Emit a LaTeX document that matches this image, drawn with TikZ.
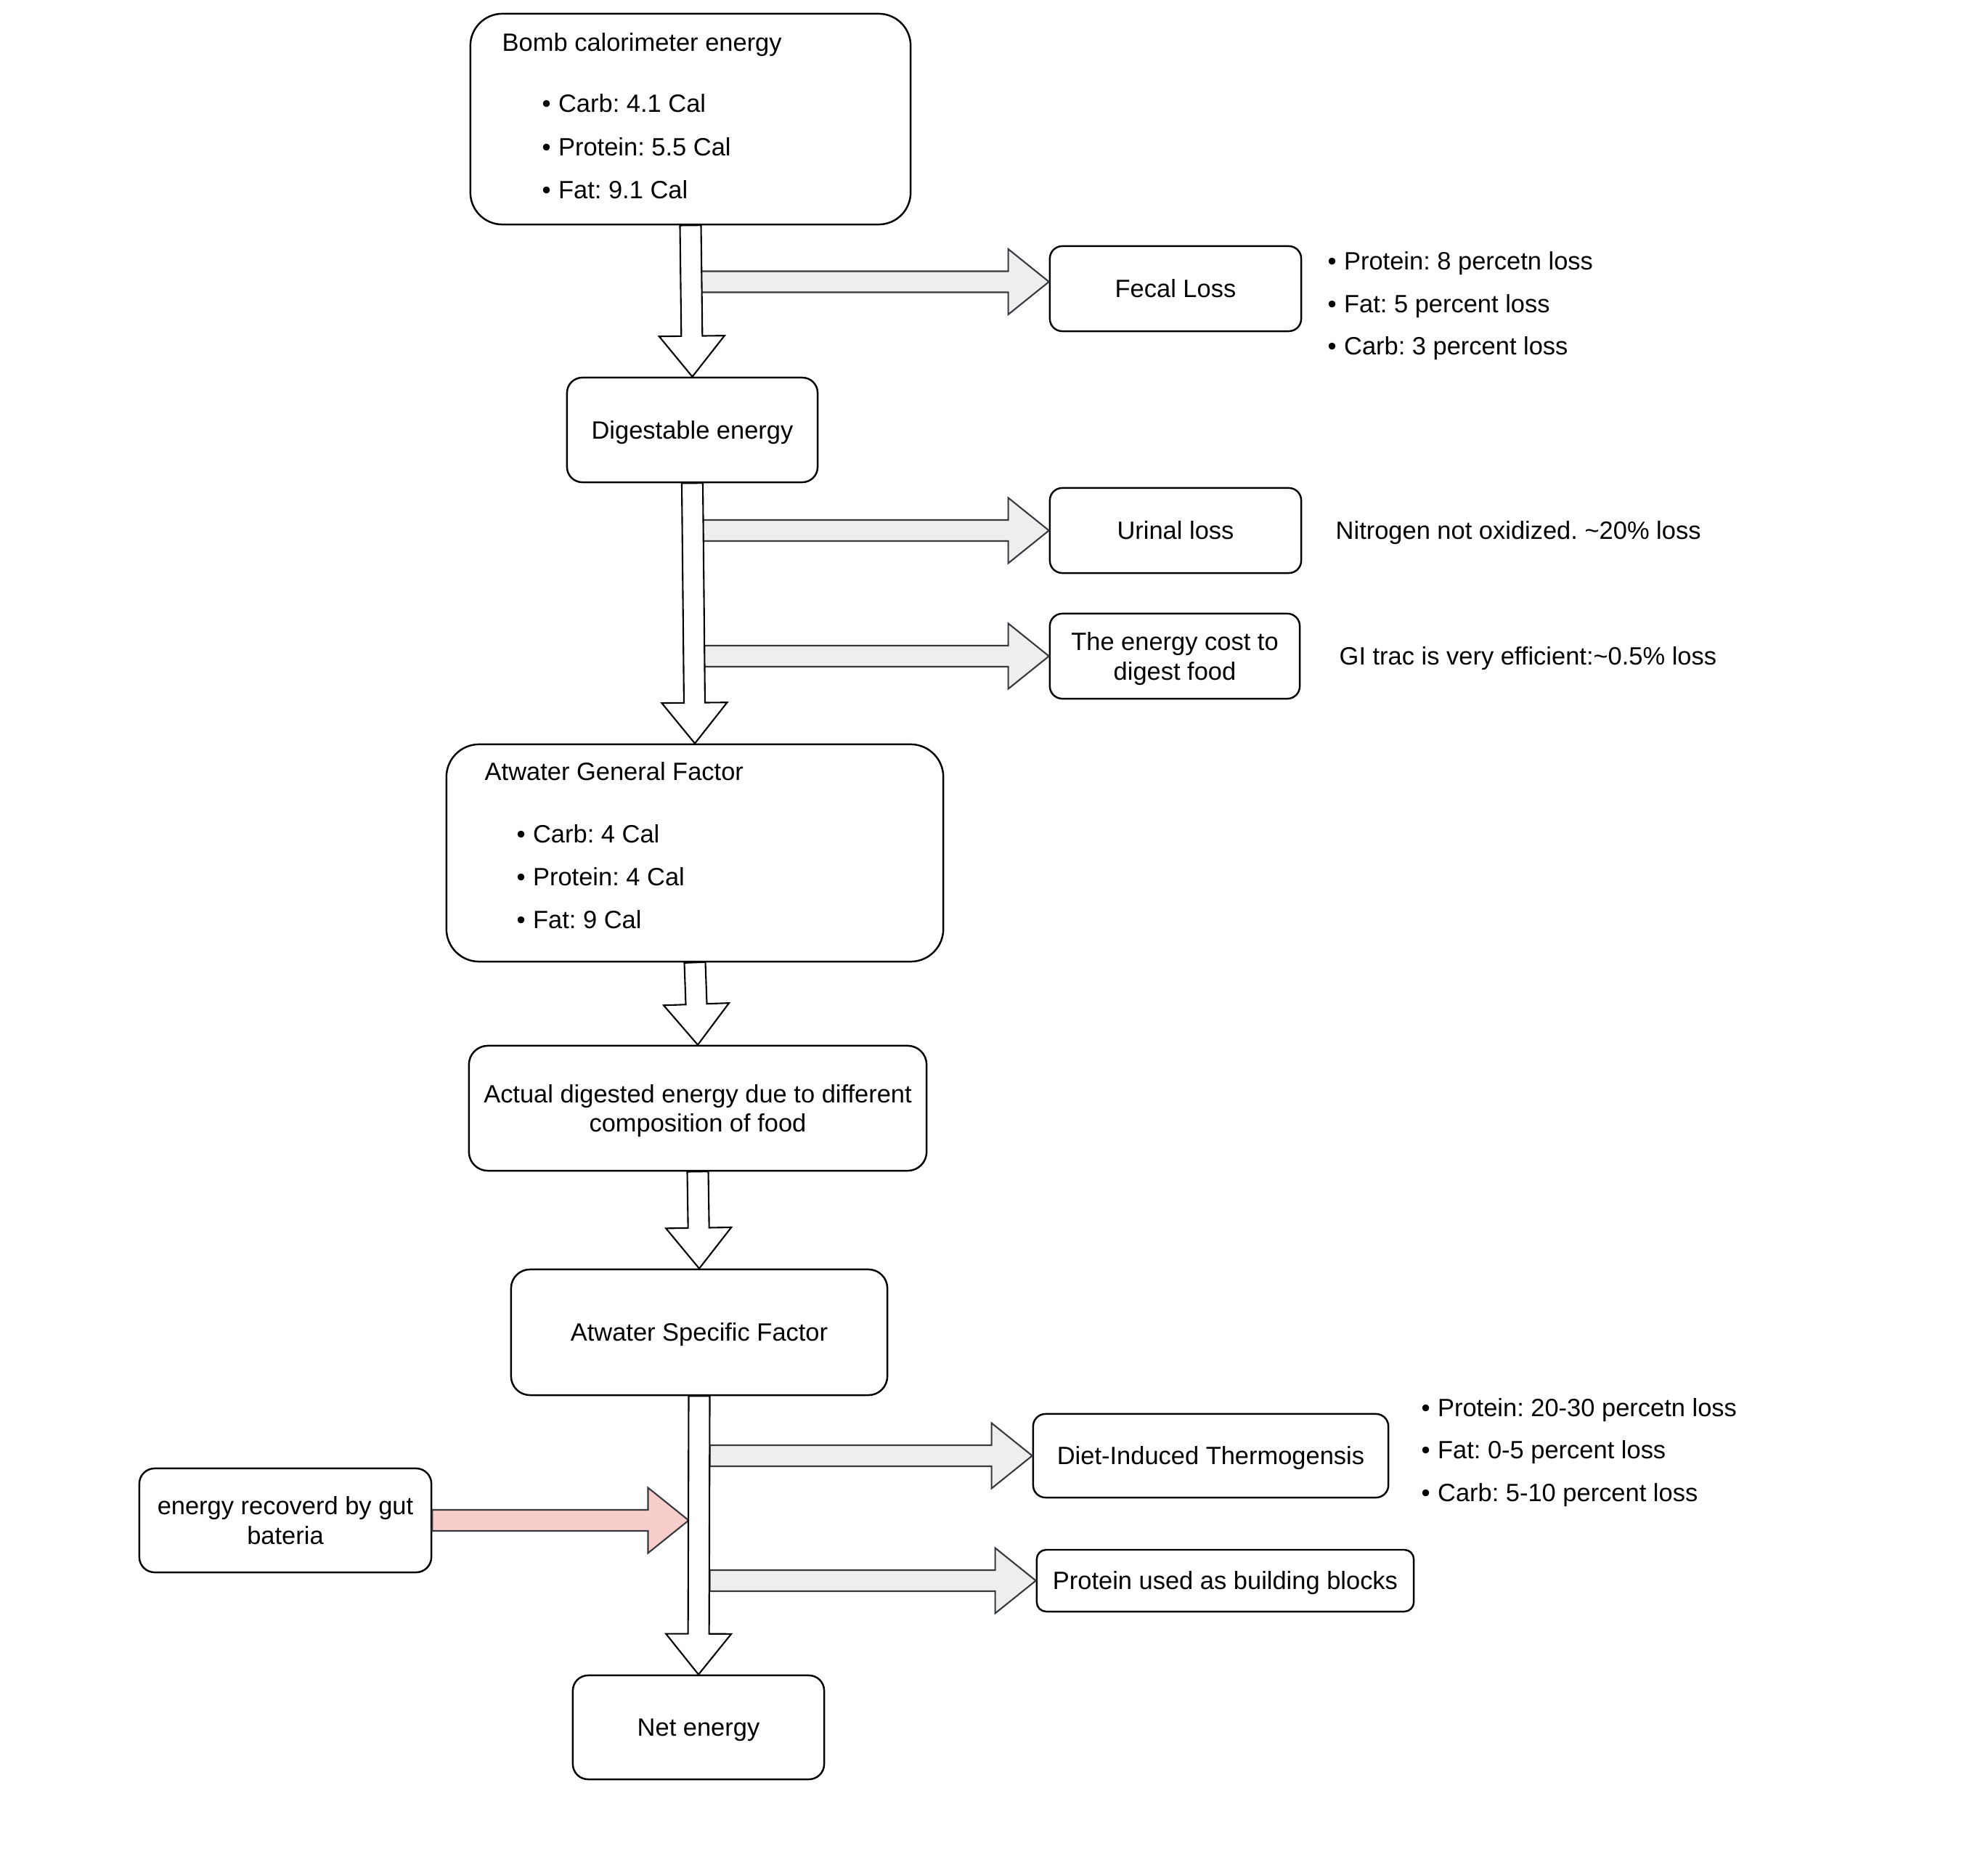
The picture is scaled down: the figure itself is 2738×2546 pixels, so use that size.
\documentclass[tikz,border=0pt]{standalone}
\usepackage{fontspec}
\setmainfont{Liberation Sans}
\usetikzlibrary{calc,positioning}
\frenchspacing

\definecolor{lossgray}{HTML}{EEEEEE}
\definecolor{gainpink}{HTML}{F8CECC}
\definecolor{arrowgray}{HTML}{36393D}

\tikzset{
  box/.style={draw, line width=0.7pt, rounded corners=#1, inner sep=0pt, align=center, text depth=0pt},
  box/.default=0.17cm,
  note/.style={anchor=base west, inner sep=0pt},
  fat/.style={draw=black, fill=white, line width=0.6pt},
  loss/.style={draw=arrowgray, fill=lossgray, line width=0.6pt},
  gain/.style={draw=arrowgray, fill=gainpink, line width=0.6pt}
}

% hollow block arrow from #2 to #3
\newcommand{\fatarrow}[3][fat]{%
  \coordinate (fa-head) at ($(#3)!0.56cm!(#2)$);
  \draw[#1] ($(#2)!0.145cm!90:(#3)$) -- ($(fa-head)!0.145cm!90:(#3)$)
    -- ($(fa-head)!0.45cm!90:(#3)$) -- (#3)
    -- ($(fa-head)!0.45cm!-90:(#3)$) -- ($(fa-head)!0.145cm!-90:(#3)$)
    -- ($(#2)!0.145cm!-90:(#3)$) -- cycle;}

\begin{document}
\begin{tikzpicture}[x=0.01cm, y=-0.01cm, font=\fontsize{9.8}{11.4}\selectfont]
  \useasboundingbox (0,0) rectangle (2738,2546);

  \node[box=0.44cm, minimum width=6.06cm, minimum height=2.90cm] (bomb) at (951,164) {};
  \node[box=0.21cm, minimum width=3.45cm, minimum height=1.44cm] (dig) at (953.5,592) {Digestable energy};
  \node[box=0.45cm, minimum width=6.84cm, minimum height=2.99cm] (gen) at (957,1174.5) {};
  \node[box=0.26cm, minimum width=6.30cm, minimum height=1.72cm] (act) at (961,1526) {Actual digested energy due to different\\composition of food};
  \node[box=0.26cm, minimum width=5.18cm, minimum height=1.73cm] (spec) at (963,1834.5) {Atwater Specific Factor};
  \node[box=0.21cm, minimum width=3.46cm, minimum height=1.43cm] (net) at (962,2378.5) {Net energy};
  \node[box, minimum width=3.46cm, minimum height=1.17cm] (fecal) at (1619,397.5) {Fecal Loss};
  \node[box, minimum width=3.46cm, minimum height=1.17cm] (urinal) at (1619,730.5) {Urinal loss};
  \node[box, minimum width=3.44cm, minimum height=1.17cm] (cost) at (1618,903.5) {The energy cost to\\digest food};
  \node[box, minimum width=4.89cm, minimum height=1.15cm] (dit) at (1667.5,2004.5) {Diet-Induced Thermogensis};
  \node[box=0.13cm, minimum width=5.19cm, minimum height=0.85cm] (build) at (1687.5,2176.5) {Protein used as building blocks};
  \node[box=0.21cm, minimum width=4.02cm, minimum height=1.43cm] (gut) at (393,2093.5) {energy recoverd by gut\\bateria};

  \node[note] (bombtitle) at (691,71) {Bomb calorimeter energy};
  \foreach \txt [count=\i] in {Carb: 4.1 Cal, Protein: 5.5 Cal, Fat: 9.1 Cal}
    \node[note] (bomb\i) at (746,{155+59.5*(\i-1)}) {•\hspace{0.3em}\txt};
  \node[note] (gentitle) at (667,1075) {Atwater General Factor};
  \foreach \txt [count=\i] in {Carb: 4 Cal, Protein: 4 Cal, Fat: 9 Cal}
    \node[note] (gen\i) at (711,{1161+58.5*(\i-1)}) {•\hspace{0.3em}\txt};
  \foreach \txt [count=\i] in {Protein: 8 percetn loss, Fat: 5 percent loss, Carb: 3 percent loss}
    \node[note] (fecal\i) at (1828,{372+58.5*(\i-1)}) {•\hspace{0.3em}\txt};
  \foreach \txt [count=\i] in {Protein: 20-30 percetn loss, Fat: 0-5 percent loss, Carb: 5-10 percent loss}
    \node[note] (dit\i) at (1957,{1950+58.5*(\i-1)}) {•\hspace{0.3em}\txt};
  \node[note] (urinalnote) at (1839,743) {Nitrogen not oxidized. \textasciitilde20\% loss};
  \node[note] (costnote) at (1844,916) {GI trac is very efficient:\textasciitilde0.5\% loss};

  \coordinate (fecaltip) at ($(fecal.west)+(0,-9.5)$);
  \coordinate (fecalin) at ($(bomb.south |- fecaltip)+(0.145cm,0)$);
  \coordinate (urinalin) at ($(dig.south |- urinal.west)+(0.145cm,0)$);
  \coordinate (costin) at ($(dig.south |- cost.west)+(0.145cm,0)$);
  \coordinate (ditin) at ($(spec.south |- dit.west)+(0.145cm,0)$);
  \coordinate (buildin) at ($(spec.south |- build.west)+(0.145cm,0)$);
  \coordinate (gutin) at ($(spec.south |- gut.east)+(-0.145cm,0)$);

  \fatarrow[loss]{fecalin}{fecaltip}
  \fatarrow[loss]{urinalin}{urinal.west}
  \fatarrow[loss]{costin}{cost.west}
  \fatarrow[loss]{ditin}{dit.west}
  \fatarrow[loss]{buildin}{build.west}
  \fatarrow[gain]{gut.east}{gutin}

  \fatarrow{bomb.south}{dig.north}
  \fatarrow{dig.south}{gen.north}
  \fatarrow{gen.south}{act.north}
  \fatarrow{act.south}{spec.north}
  \fatarrow{spec.south}{net.north}
\end{tikzpicture}
\end{document}
